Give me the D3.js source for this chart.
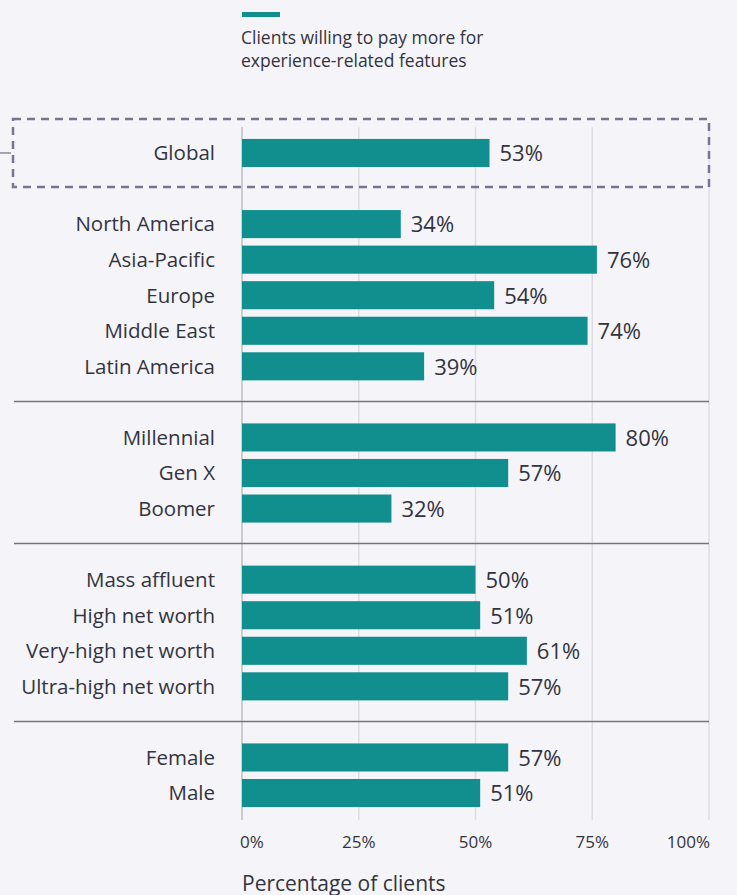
<!DOCTYPE html>
<html>
<head>
<meta charset="utf-8">
<script src="https://cdn.jsdelivr.net/npm/d3@7"></script>
<style>
  html, body { margin: 0; padding: 0; background: #f5f5f9; }
  svg { display: block; }
  text { font-family: "Open Sans", "Noto Sans", sans-serif; fill: #33333f; }
</style>
</head>
<body>
<div id="chart"></div>
<script>
'use strict'

// rows in order, null marks a gap slot between groups
const rows = ['Global', null,
	'North America', 'Asia-Pacific', 'Europe', 'Middle East', 'Latin America', null,
	'Millennial', 'Gen X', 'Boomer', null,
	'Mass affluent', 'High net worth', 'Very-high net worth', 'Ultra-high net worth', null,
	'Female', 'Male']
const categories = rows.filter(r => r !== null)
const values = [53, 34, 76, 54, 74, 39, 80, 57, 32, 50, 51, 61, 57, 57, 51]
const ticks = [0, 25, 50, 75, 100]
const separators = ['Latin America', 'Boomer', 'Ultra-high net worth']
const legendLines = ['Clients willing to pay more for', 'experience-related features']
const axisTitle = 'Percentage of clients'

const width = 737, height = 895
const teal = '#108f8e'

const svg = d3.select('#chart').append('svg')
	.attr('width', width)
	.attr('height', height)

const slots = rows.map((r, i) => r === null ? 'gap' + i : r)
const y = d3.scaleBand()
	.domain(slots)
	.range([135.2, 810.8])
	.paddingInner(0.21)
	.paddingOuter(0.105)

const x = d3.scaleLinear()
	.domain([0, 100])
	.range([242, 709])

// gridlines
svg.append('g').selectAll('line')
	.data(ticks)
	.join('line')
	.attr('x1', d => x(d))
	.attr('x2', d => x(d))
	.attr('y1', 127)
	.attr('y2', 820)
	.attr('stroke', d => d === 0 ? '#bdbdc4' : '#dcdce2')
	.attr('stroke-width', 1.5)

// group separators, half a step below the last bar of each group
const sepY = d => y(d) + y.bandwidth() + y.step() * 0.5 + y.step() * 0.105 - 0.5
svg.append('g').selectAll('line')
	.data(separators)
	.join('line')
	.attr('x1', 14)
	.attr('x2', x(100))
	.attr('y1', sepY)
	.attr('y2', sepY)
	.attr('stroke', '#74737f')
	.attr('stroke-width', 1.5)

// bars
const data = categories.map((c, i) => ({ name: c, value: values[i] }))
svg.append('g').selectAll('rect')
	.data(data)
	.join('rect')
	.attr('x', x(0))
	.attr('y', d => y(d.name))
	.attr('width', d => x(d.value) - x(0))
	.attr('height', y.bandwidth())
	.attr('fill', teal)

// category labels
svg.append('g').selectAll('text')
	.data(data)
	.join('text')
	.attr('x', 215)
	.attr('y', d => y(d.name) + y.bandwidth() / 2)
	.attr('dy', '0.36em')
	.attr('text-anchor', 'end')
	.attr('font-size', 20.5)
	.attr('font-weight', d => d.name === 'Global' ? 500 : 400)
	.text(d => d.name)

// value labels
svg.append('g').selectAll('text')
	.data(data)
	.join('text')
	.attr('x', d => x(d.value) + 10)
	.attr('y', d => y(d.name) + y.bandwidth() / 2)
	.attr('dy', '0.38em')
	.attr('font-size', 22)
	.text(d => d.value + '%')

// dashed box round Global
const gy = y('Global') + y.bandwidth() / 2
svg.append('rect')
	.attr('x', 13)
	.attr('y', 119)
	.attr('width', x(100) - 13)
	.attr('height', 68)
	.attr('fill', 'none')
	.attr('stroke', '#777690')
	.attr('stroke-width', 2.5)
	.attr('stroke-dasharray', '8,6')
svg.append('line')
	.attr('x1', 0).attr('x2', 11)
	.attr('y1', gy).attr('y2', gy)
	.attr('stroke', '#8a8a95')
	.attr('stroke-width', 1.5)

// x axis tick labels
svg.append('g').selectAll('text')
	.data(ticks)
	.join('text')
	.attr('x', d => d === 0 ? x(d) - 2 : d === 100 ? x(d) + 1 : x(d))
	.attr('y', 848)
	.attr('text-anchor', d => d === 0 ? 'start' : d === 100 ? 'end' : 'middle')
	.attr('font-size', 17)
	.text(d => d + '%')

svg.append('text')
	.attr('x', x(0))
	.attr('y', 891)
	.attr('font-size', 21)
	.text(axisTitle)

// legend
svg.append('rect')
	.attr('x', 242)
	.attr('y', 12)
	.attr('width', 38)
	.attr('height', 5)
	.attr('fill', teal)
svg.append('g').selectAll('text')
	.data(legendLines)
	.join('text')
	.attr('x', 241)
	.attr('y', (d, i) => 44 + i * 23)
	.attr('font-size', 17.5)
	.text(d => d)
</script>
</body>
</html>
